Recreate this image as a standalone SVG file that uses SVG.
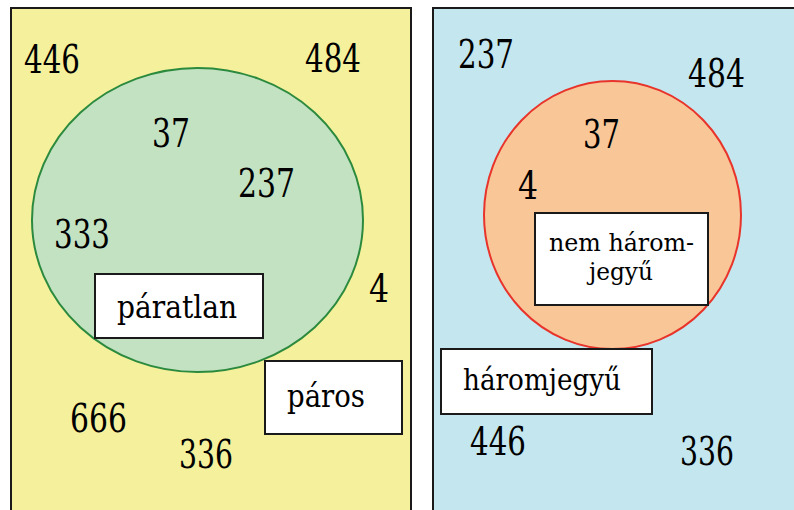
<svg xmlns="http://www.w3.org/2000/svg" width="794" height="510" viewBox="0 0 794 510">
<style>
.panel{stroke:#1a1a1a;stroke-width:2}
.box{fill:#ffffff;stroke:#1a1a1a;stroke-width:2}
.num{font-family:'DejaVu Serif',serif;font-size:40px;fill:#000}
.lbl{font-family:'DejaVu Serif',serif;fill:#000}
</style>
<rect width="794" height="510" fill="#ffffff"/>
<g id="panel-left">
<rect class="panel" x="11" y="8" width="400" height="520" fill="#f4f09b"/>
<ellipse id="set-paratlan" cx="197.5" cy="220" rx="165.5" ry="152" fill="#c3e2c2" stroke="#2b8a3e" stroke-width="2"/>
<text class="num" x="24" y="73" textLength="56" lengthAdjust="spacingAndGlyphs">446</text>
<text class="num" x="305" y="72" textLength="56" lengthAdjust="spacingAndGlyphs">484</text>
<text class="num" x="152" y="147" textLength="38" lengthAdjust="spacingAndGlyphs">37</text>
<text class="num" x="238" y="197" textLength="57" lengthAdjust="spacingAndGlyphs">237</text>
<text class="num" x="54" y="248" textLength="56" lengthAdjust="spacingAndGlyphs">333</text>
<text class="num" x="369" y="302" textLength="20" lengthAdjust="spacingAndGlyphs">4</text>
<text class="num" x="70" y="432" textLength="57" lengthAdjust="spacingAndGlyphs">666</text>
<text class="num" x="179" y="468" textLength="54" lengthAdjust="spacingAndGlyphs">336</text>
<g id="label-paratlan">
<rect class="box" x="95" y="274" width="168" height="64"/>
<text class="lbl" x="117" y="318" font-size="32" textLength="120" lengthAdjust="spacingAndGlyphs">páratlan</text>
</g>
<g id="label-paros">
<rect class="box" x="265" y="361" width="137" height="73"/>
<text class="lbl" x="287" y="407" font-size="32" textLength="78" lengthAdjust="spacingAndGlyphs">páros</text>
</g>
</g>
<g id="panel-right">
<rect class="panel" x="433" y="8" width="380" height="520" fill="#c3e6ef"/>
<ellipse id="set-nem-haromjegyu" cx="612.5" cy="215" rx="128.5" ry="134" fill="#f9c698" stroke="#e8342b" stroke-width="2"/>
<text class="num" x="458" y="68" textLength="56" lengthAdjust="spacingAndGlyphs">237</text>
<text class="num" x="688" y="87" textLength="57" lengthAdjust="spacingAndGlyphs">484</text>
<text class="num" x="583" y="148" textLength="37" lengthAdjust="spacingAndGlyphs">37</text>
<text class="num" x="518" y="199" textLength="20" lengthAdjust="spacingAndGlyphs">4</text>
<text class="num" x="470" y="455" textLength="56" lengthAdjust="spacingAndGlyphs">446</text>
<text class="num" x="680" y="465" textLength="54" lengthAdjust="spacingAndGlyphs">336</text>
<g id="label-nem-haromjegyu">
<rect class="box" x="535" y="213" width="173" height="92"/>
<text class="lbl" x="549" y="251" font-size="24" textLength="145" lengthAdjust="spacingAndGlyphs">nem három-</text>
<text class="lbl" x="589" y="280" font-size="24" textLength="64" lengthAdjust="spacingAndGlyphs">jegyű</text>
</g>
<g id="label-haromjegyu">
<rect class="box" x="441" y="349" width="211" height="65"/>
<text class="lbl" x="463" y="390" font-size="29" textLength="158" lengthAdjust="spacingAndGlyphs">háromjegyű</text>
</g>
</g>
<g id="connectors"/>
</svg>
